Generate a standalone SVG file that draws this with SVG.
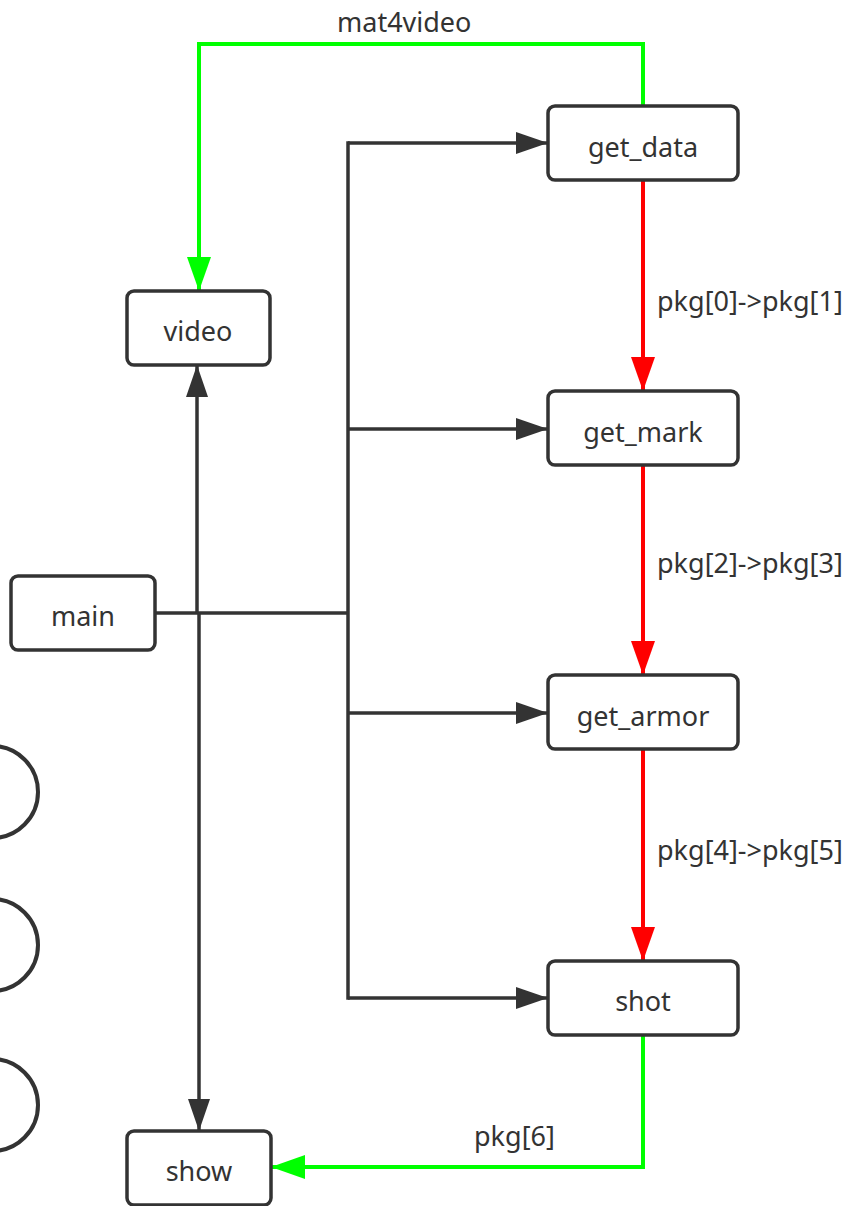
<svg xmlns="http://www.w3.org/2000/svg" width="846" height="1206" viewBox="0 0 846 1206">
  <style>
    .box { fill: #ffffff; stroke: #333333; stroke-width: 3.5; }
    .label { font-family: "Noto Sans", "Liberation Sans", sans-serif; font-size: 27px; fill: #333333; text-anchor: middle; dominant-baseline: central; }
    .edge-label { font-family: "Noto Sans", "Liberation Sans", sans-serif; font-size: 27px; fill: #333333; }
    .dark { fill: none; stroke: #333333; stroke-width: 3.5; }
    .red { fill: none; stroke: #ff0000; stroke-width: 4; }
    .green { fill: none; stroke: #00ff00; stroke-width: 4; stroke-linejoin: miter; }
    .ring { fill: #ffffff; stroke: #333333; stroke-width: 4; }
  </style>
  <defs>
    <marker id="arrow-dark" markerUnits="userSpaceOnUse" markerWidth="34" markerHeight="24" refX="32" refY="11" orient="auto">
      <path d="M0,0 L32,11 L0,22 z" fill="#333333"/>
    </marker>
    <marker id="arrow-red" markerUnits="userSpaceOnUse" markerWidth="36" markerHeight="26" refX="34" refY="12" orient="auto">
      <path d="M0,0 L34,12 L0,24 z" fill="#ff0000"/>
    </marker>
    <marker id="arrow-green" markerUnits="userSpaceOnUse" markerWidth="36" markerHeight="26" refX="34" refY="12" orient="auto">
      <path d="M0,0 L34,12 L0,24 z" fill="#00ff00"/>
    </marker>
  </defs>

  <rect width="846" height="1206" fill="#ffffff"/>

  <!-- rings at the left edge -->
  <g id="rings">
    <circle class="ring" cx="-8" cy="792" r="46"/>
    <circle class="ring" cx="-8" cy="945" r="46"/>
    <circle class="ring" cx="-8" cy="1105" r="46"/>
  </g>

  <g id="connectors">
    <!-- main fan-out -->
    <path class="dark" d="M155,613 H348"/>
    <path class="dark" d="M348,141.25 V999.75"/>
    <path class="dark" d="M348,143 H548" marker-end="url(#arrow-dark)"/>
    <path class="dark" d="M348,429 H548" marker-end="url(#arrow-dark)"/>
    <path class="dark" d="M348,713 H548" marker-end="url(#arrow-dark)"/>
    <path class="dark" d="M348,998 H548" marker-end="url(#arrow-dark)"/>
    <!-- main to video / show -->
    <path class="dark" d="M197,613 V365" marker-end="url(#arrow-dark)"/>
    <path class="dark" d="M199,613 V1131" marker-end="url(#arrow-dark)"/>
    <!-- pipeline -->
    <path class="red" d="M643,180 V391" marker-end="url(#arrow-red)"/>
    <path class="red" d="M643,465 V675" marker-end="url(#arrow-red)"/>
    <path class="red" d="M643,749 V961" marker-end="url(#arrow-red)"/>
    <!-- frame to video -->
    <path class="green" d="M643,106 V44 H199 V291" marker-end="url(#arrow-green)"/>
    <!-- result to show -->
    <path class="green" d="M643,1035 V1167 H271" marker-end="url(#arrow-green)"/>

    <text class="edge-label" x="337" y="32">mat4video</text>
    <text class="edge-label" x="657" y="311">pkg[0]-&gt;pkg[1]</text>
    <text class="edge-label" x="657" y="573">pkg[2]-&gt;pkg[3]</text>
    <text class="edge-label" x="657" y="860">pkg[4]-&gt;pkg[5]</text>
    <text class="edge-label" x="474" y="1146">pkg[6]</text>
  </g>

  <g id="node-get_data">
    <rect class="box" x="548" y="106" width="190" height="74" rx="7"/>
    <text class="label" x="643" y="146">get_data</text>
  </g>
  <g id="node-get_mark">
    <rect class="box" x="548" y="391" width="190" height="74" rx="7"/>
    <text class="label" x="643" y="431">get_mark</text>
  </g>
  <g id="node-get_armor">
    <rect class="box" x="548" y="675" width="190" height="74" rx="7"/>
    <text class="label" x="643" y="715">get_armor</text>
  </g>
  <g id="node-shot">
    <rect class="box" x="548" y="961" width="190" height="74" rx="7"/>
    <text class="label" x="643" y="1000">shot</text>
  </g>
  <g id="node-video">
    <rect class="box" x="127" y="291" width="143" height="74" rx="7"/>
    <text class="label" x="198" y="330">video</text>
  </g>
  <g id="node-main">
    <rect class="box" x="11" y="576" width="144" height="74" rx="7"/>
    <text class="label" x="83" y="615">main</text>
  </g>
  <g id="node-show">
    <rect class="box" x="127" y="1131" width="144" height="74" rx="7"/>
    <text class="label" x="199" y="1170">show</text>
  </g>
</svg>
